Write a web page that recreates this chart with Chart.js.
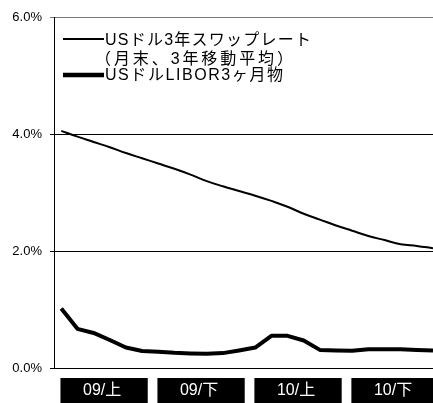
<!DOCTYPE html>
<html>
<head>
<meta charset="utf-8">
<script src="https://cdn.jsdelivr.net/npm/chart.js@4/dist/chart.umd.min.js"></script>
<style>
  html, body { margin: 0; padding: 0; background: #fff; overflow: hidden; }
  #wrap { width: 433px; height: 403px; }
</style>
</head>
<body>
<div id="wrap"><canvas id="chartCanvas" width="433" height="403"></canvas></div>
<script>
// months (Japanese fiscal half-years: 上 = Apr-Sep, 下 = Oct-Mar)
const months = ['2009-04','2009-05','2009-06','2009-07','2009-08','2009-09',
                '2009-10','2009-11','2009-12','2010-01','2010-02','2010-03',
                '2010-04','2010-05','2010-06','2010-07','2010-08','2010-09',
                '2010-10','2010-11','2010-12','2011-01','2011-02','2011-03'];
const halfLabels = ['09/上', '09/下', '10/上', '10/下'];
const yTicks = [0, 2, 4, 6];

// USドル3年スワップレート (月末、3年移動平均)
const swapRate = [4.06, 3.96, 3.87, 3.78, 3.68, 3.59, 3.50, 3.41, 3.31, 3.20, 3.11, 3.03,
                  2.95, 2.86, 2.76, 2.64, 2.54, 2.44, 2.35, 2.26, 2.19, 2.12, 2.09, 2.05];
// USドルLIBOR3ヶ月物
const libor = [1.02, 0.67, 0.60, 0.48, 0.35, 0.29, 0.28, 0.26, 0.25, 0.245, 0.255, 0.30,
               0.35, 0.55, 0.55, 0.47, 0.31, 0.30, 0.295, 0.32, 0.32, 0.32, 0.31, 0.30];

// legend rows: sample line width, text middle y, visible text span
const legendLines = [
    { text: 'USドル3年スワップレート', width: 1.8, lineY: 39, y: 41, right: 309 },
    { text: '（月末、3年移動平均）', width: 0, lineY: 0, y: 60, right: 282 },
    { text: 'USドルLIBOR3ヶ月物', width: 4.5, lineY: 75, y: 76, right: 283 }
];

const JP_FONT = '"Liberation Sans", "Noto Sans CJK JP", sans-serif';

// legend + half-year label boxes
const decorPlugin = {
    id: 'decor',
    afterDraw(chart) {
        const ctx = chart.ctx;
        const x = chart.scales.x;
        ctx.save();

        // legend
        ctx.font = '16px ' + JP_FONT;
        ctx.textBaseline = 'middle';
        ctx.fillStyle = '#000';
        ctx.strokeStyle = '#000';
        const left = 106;
        legendLines.forEach(l => {
            if (l.width > 0) {
                ctx.lineWidth = l.width;
                ctx.beginPath();
                ctx.moveTo(63, l.lineY);
                ctx.lineTo(104, l.lineY);
                ctx.stroke();
            }
            // stretch the text to the span it has in the original
            ctx.letterSpacing = '0px';
            const m = ctx.measureText(l.text);
            const vis = m.actualBoundingBoxLeft + m.actualBoundingBoxRight;
            const n = Array.from(l.text).length;
            const ls = Math.max(0, (l.right - left - vis) / (n - 1));
            ctx.letterSpacing = ls.toFixed(2) + 'px';
            ctx.fillText(l.text, left + m.actualBoundingBoxLeft, l.y);
        });
        ctx.letterSpacing = '0px';

        // half-year boxes
        ctx.font = '16px ' + JP_FONT;
        ctx.textAlign = 'center';
        halfLabels.forEach((lab, k) => {
            const bl = x.getPixelForValue(6 * k - 0.05);
            const br = x.getPixelForValue(6 * k + 5.35);
            ctx.fillStyle = '#000';
            ctx.fillRect(bl, 378, br - bl, 25);
            ctx.fillStyle = '#fff';
            ctx.fillText(lab, (bl + br) / 2 - 2, 391);
        });
        ctx.restore();
    }
};

const ctx = document.getElementById('chartCanvas').getContext('2d');
const chart = new Chart(ctx, {
    type: 'line',
    data: {
        labels: months,
        datasets: [{
            label: 'USドル3年スワップレート（月末、3年移動平均）',
            data: swapRate.map((v, i) => ({ x: i, y: v })),
            borderColor: '#000',
            borderWidth: 2,
            pointRadius: 0,
            tension: 0.4,
            fill: false
        }, {
            label: 'USドルLIBOR3ヶ月物',
            data: libor.map((v, i) => ({ x: i, y: v })),
            borderColor: '#000',
            borderWidth: 4,
            borderJoinStyle: 'round',
            pointRadius: 0,
            tension: 0,
            fill: false
        }]
    },
    options: {
        responsive: false,
        animation: false,
        devicePixelRatio: 1,
        layout: { padding: { top: 17.5, left: 0, right: 0, bottom: 0 } },
        plugins: { legend: { display: false }, tooltip: { enabled: false } },
        scales: {
            x: {
                type: 'linear',
                min: -0.45,
                max: 23,
                ticks: { display: false },
                grid: { display: false },
                border: { display: true, color: '#000', width: 1 },
                afterFit: (scale) => { scale.height = 35; }
            },
            y: {
                min: 0,
                max: 6,
                afterBuildTicks: (scale) => { scale.ticks = yTicks.map(v => ({ value: v })); },
                ticks: {
                    padding: 8,
                    color: '#000',
                    font: { family: '"Liberation Sans", Arial, sans-serif', size: 13 },
                    callback: v => v.toFixed(1) + '%'
                },
                grid: {
                    color: c => c.tick && c.tick.value === 6 ? '#777' : '#000',
                    lineWidth: 1,
                    tickLength: 4
                },
                border: { display: true, color: '#000', width: 1 },
                afterFit: (scale) => { scale.width = 54; }
            }
        }
    },
    plugins: [decorPlugin]
});
</script>
</body>
</html>
